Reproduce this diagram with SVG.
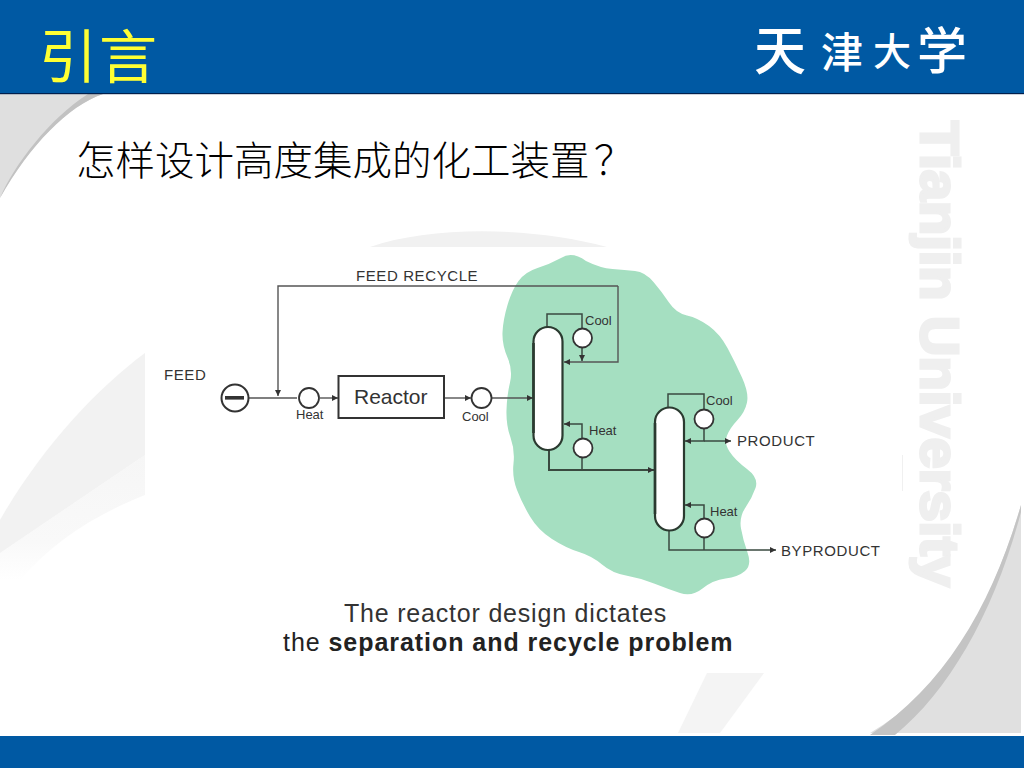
<svg xmlns="http://www.w3.org/2000/svg" width="1024" height="768" viewBox="0 0 1024 768">
<style>
.lat{font-family:"Liberation Sans",Arial,sans-serif;fill:#333}
.lbl{font-size:15px;letter-spacing:.6px}
.sm{font-size:13px}
.cjk{font-family:"Noto Sans CJK SC",sans-serif}
.ln{fill:none;stroke:#555;stroke-width:1.4}
.ld{fill:none;stroke:#3a4a40;stroke-width:1.5}
.hx{fill:#fff;stroke:#333;stroke-width:1.8}
.col{fill:#fff;stroke:#2b3a30;stroke-width:2.2}
.cap{font-size:25px;letter-spacing:.8px}
</style>
<defs>
<marker id="a" markerUnits="userSpaceOnUse" markerWidth="7" markerHeight="7" refX="6" refY="3" orient="auto"><path d="M0 0L6 3L0 6Z" fill="#333"/></marker>
<linearGradient id="fade" x1="0" y1="0" x2="0" y2="1"><stop offset="0" stop-color="#f6f6f6"/><stop offset=".7" stop-color="#f9f9f9"/><stop offset="1" stop-color="#fff"/></linearGradient>
</defs>
<rect width="1024" height="768" fill="#fff"/>
<g id="background">
<path d="M0 94H103C68 106 30 145 0 198Z" fill="#dfdfdf"/>
<path d="M103 94C68 106 30 145 0 198C14 165 50 118 88 94Z" fill="#c2c2c2"/>
<path d="M1021 505V733H870C945 690 990 610 1021 505Z" fill="#e0e0e0"/>
<path d="M1021 505C992 605 945 685 870 735H895C950 690 995 610 1021 512Z" fill="#c4c4c4"/>
<path d="M145 455V495C95 515 55 540 20 580H0V553Z" fill="url(#fade)"/>
<path d="M145 353V455L0 553V520C40 450 95 390 145 353Z" fill="#f2f2f2"/>
<path d="M370 247C430 226 530 226 607 247Z" fill="#f1f1f1"/>
<path d="M707 673H764L720 733H678Z" fill="#f4f4f4"/>
<rect x="902" y="455" width="1" height="36" fill="#f0f0f0"/>
<text transform="translate(921 121) rotate(90)" font-family="'Liberation Sans',sans-serif" font-weight="700" font-size="54" fill="#efefef" stroke="#efefef" stroke-width="3" textLength="466" lengthAdjust="spacingAndGlyphs">Tianjin University</text>
</g>
<g id="header">
<rect width="1024" height="94" fill="#0059a3"/>
<rect y="93" width="1024" height="1.2" fill="#001f4d"/>
<text x="39" y="78" class="cjk" font-size="58" font-weight="400" fill="#ffff33" textLength="118" lengthAdjust="spacing">引言</text>
<text class="cjk" font-weight="500" fill="#fff"><tspan x="754" y="70" font-size="52">天</tspan><tspan x="821" y="68" font-size="42">津</tspan><tspan x="873" y="65" font-size="38">大</tspan><tspan x="917" y="69" font-size="50">学</tspan></text>
</g>
<rect id="footer" y="736" width="1024" height="32" fill="#0059a3"/>
<text id="question" y="175" class="cjk" font-size="39.500" font-weight="300" fill="#000"><tspan x="76">怎样设计高度集成的化工装置</tspan><tspan x="594">？</tspan></text>
<path id="blob" fill="#a5dfc1" d="M561 258Q572 251 586 261Q600 268 612.500 269Q625 270 635 271Q645 272 653.500 282Q662 292 669 302.500Q676 313 687 315.500Q698 318 709 326Q720 334 727.500 348Q735 362 742 377.500Q749 393 747 402.500Q745 412 737.500 420Q730 428 727 435.500Q724 443 729.500 451.500Q735 460 747 469Q759 478 755.500 488Q752 498 745.500 507.500Q739 517 741 528.500Q743 540 747.500 552.500Q752 565 745 571Q738 577 725.500 578.500Q713 580 702.500 588.500Q692 597 680 593Q668 589 654 583.500Q640 578 626 575.500Q612 573 602 564.500Q592 556 579 552Q566 548 552 539Q538 530 530 516.500Q522 503 517 490Q512 477 513.500 463.500Q515 450 510.500 437.500Q506 425 506.500 410Q507 395 510 382.500Q513 370 507.500 357.500Q502 345 502.500 332.500Q503 320 507.500 305Q512 290 518.500 281Q525 272 537.500 268Q550 264 561 258Z"/>
<g id="connectors">
<path class="ln" d="M618 286H278V396" marker-end="url(#a)"/>
<path class="ln" d="M618 286V362H564" marker-end="url(#a)"/>
<path class="ln" d="M248 398H297"/>
<path class="ln" d="M320 398H338" marker-end="url(#a)"/>
<path class="ln" d="M445 398H471" marker-end="url(#a)"/>
<path class="ln" d="M492 398H533" marker-end="url(#a)"/>
<path class="ld" d="M547 327V314H582V329"/>
<path class="ld" d="M582 348V361" marker-end="url(#a)"/>
<path class="ld" d="M582 438V424H564" marker-end="url(#a)"/>
<path class="ld" d="M549 449V470H654" marker-end="url(#a)" style="stroke-width:2"/>
<path class="ld" d="M582 458V470"/>
<path class="ld" d="M668 407V394H704V410"/>
<path class="ld" d="M704 429V441H685" marker-end="url(#a)"/>
<path class="ld" d="M704 441H731" marker-end="url(#a)"/>
<path class="ld" d="M704 519V505H685" marker-end="url(#a)"/>
<path class="ld" d="M669 530V550H776" marker-end="url(#a)"/>
<path class="ld" d="M704 538V550"/>
</g>
<g id="feed"><circle cx="235" cy="398" r="13.500" fill="#fff" stroke="#333" stroke-width="2"/><rect x="225" y="396" width="19" height="3.600" fill="#333"/>
<text x="164" y="380" class="lat lbl">FEED</text></g>
<g id="heater"><circle class="hx" cx="309" cy="398" r="10"/><text x="296" y="419" class="lat sm">Heat</text></g>
<g id="reactor"><rect x="338.500" y="376" width="105.500" height="42" fill="#fff" stroke="#333" stroke-width="2"/><text x="354" y="404" class="lat" font-size="21">Reactor</text></g>
<g id="cooler"><circle class="hx" cx="481.500" cy="398" r="10"/><text x="462" y="421" class="lat sm">Cool</text></g>
<g id="column1"><rect class="col" x="533.500" y="327" width="29" height="123" rx="14.500"/><path d="M533.500 343V433" stroke="#2b3a30" stroke-width="2.600"/></g>
<g id="cool1"><circle class="hx" cx="582.500" cy="338" r="9.500"/><text x="585" y="325" class="lat sm">Cool</text></g>
<g id="heat1"><circle class="hx" cx="583" cy="448" r="9.500"/><text x="589" y="435" class="lat sm">Heat</text></g>
<g id="column2"><rect class="col" x="655" y="407.500" width="29" height="123" rx="14.500"/><path d="M655 423V514" stroke="#2b3a30" stroke-width="2.600"/></g>
<g id="cool2"><circle class="hx" cx="704" cy="419" r="9.500"/><text x="706" y="405" class="lat sm">Cool</text></g>
<g id="heat2"><circle class="hx" cx="704.500" cy="528" r="9.500"/><text x="710" y="516" class="lat sm">Heat</text></g>
<text id="feed-recycle" x="356" y="281" class="lat lbl">FEED RECYCLE</text>
<text id="product" x="737" y="446" class="lat lbl">PRODUCT</text>
<text id="byproduct" x="781" y="556" class="lat lbl">BYPRODUCT</text>
<g id="caption">
<text x="344" y="622" class="lat cap">The reactor design dictates</text>
<text x="283" y="651" class="lat cap" style="fill:#222;letter-spacing:.95px">the <tspan font-weight="700">separation and recycle problem</tspan></text>
</g>
</svg>
